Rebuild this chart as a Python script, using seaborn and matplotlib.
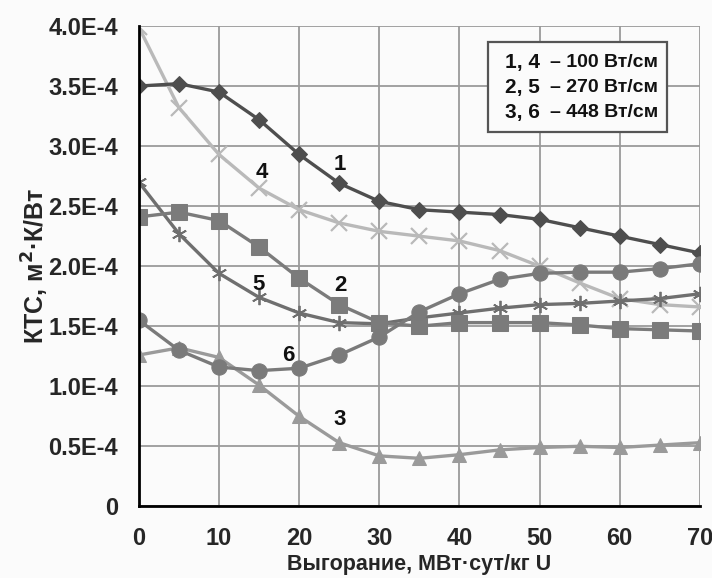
import matplotlib
matplotlib.use("Agg")
import matplotlib.pyplot as plt
from matplotlib import font_manager
from matplotlib.patches import Rectangle
import seaborn as sns
import pandas as pd

x = [0, 5, 10, 15, 20, 25, 30, 35, 40, 45, 50, 55, 60, 65, 70]
s1 = [3.50, 3.52, 3.45, 3.22, 2.93, 2.69, 2.54, 2.47, 2.45, 2.43, 2.39, 2.32, 2.25, 2.18, 2.11]
s4 = [3.99, 3.32, 2.93, 2.65, 2.47, 2.36, 2.29, 2.25, 2.21, 2.13, 2.00, 1.86, 1.73, 1.68, 1.66]
s5 = [2.70, 2.27, 1.94, 1.74, 1.61, 1.53, 1.52, 1.57, 1.61, 1.65, 1.68, 1.69, 1.71, 1.73, 1.77]
s2 = [2.41, 2.45, 2.38, 2.16, 1.90, 1.68, 1.53, 1.50, 1.53, 1.53, 1.53, 1.51, 1.48, 1.47, 1.46]
s6 = [1.55, 1.30, 1.16, 1.13, 1.15, 1.26, 1.41, 1.62, 1.77, 1.89, 1.94, 1.95, 1.95, 1.98, 2.02]
s3 = [1.26, 1.32, 1.24, 1.01, 0.75, 0.53, 0.42, 0.40, 0.43, 0.47, 0.49, 0.50, 0.49, 0.51, 0.53]

scale = 1e-4
y_ticks = [0, 0.5, 1.0, 1.5, 2.0, 2.5, 3.0, 3.5, 4.0]
y_ticklabels = ["0", "0.5E-4", "1.0E-4", "1.5E-4", "2.0E-4", "2.5E-4", "3.0E-4", "3.5E-4", "4.0E-4"]
x_ticks = [0, 10, 20, 30, 40, 50, 60, 70]

legend_keys = ["1, 4", "2, 5", "3, 6"]
legend_vals = ["– 100 Вт/см", "– 270 Вт/см", "– 448 Вт/см"]

sns.set_theme(style="white")
names = {f.name for f in font_manager.fontManager.ttflist}
narrow = 'Liberation Sans Narrow' if 'Liberation Sans Narrow' in names else 'Liberation Sans'
plt.rcParams['font.family'] = [narrow, 'DejaVu Sans']
plt.rcParams['font.weight'] = 'bold'

fig = plt.figure(figsize=(7.12, 5.78), dpi=100)
fig.patch.set_facecolor("#fbfbfb")
ax = fig.add_axes([0.195, 0.124, 0.788, 0.831])
ax.set_facecolor("#fbfbfb")

series = [
    (s4, "#b9b9b9", "x", 11, 1.6),
    (s5, "#6f6f6f", (6, 2, 0), 11, 1.3),
    (s1, "#4e4e4e", "D", 8, 0),
    (s2, "#7b7b7b", "s", 11, 0),
    (s3, "#9a9a9a", "^", 10, 0),
    (s6, "#7a7a7a", "o", 11, 0),
]

for vals, col, mk, ms, mew in series:
    df = pd.DataFrame({"x": x, "y": [v * scale for v in vals]})
    kw = dict(markeredgecolor=col)
    if mew > 0:
        kw["markeredgewidth"] = mew
    else:
        kw["markerfacecolor"] = col
    sns.lineplot(data=df, x="x", y="y", ax=ax, color=col, lw=2.4, marker=mk,
                 markersize=ms, zorder=3, **kw)

ax.set_xlim(0, 70)
ax.set_ylim(0, 4.0e-4)
ax.set_xticks(x_ticks)
ax.set_yticks([t * scale for t in y_ticks])
ax.set_yticklabels(y_ticklabels)
ax.tick_params(axis='y', labelsize=17, length=0, pad=15)
ax.tick_params(axis='x', labelsize=17, length=0, pad=15)
for lab in ax.get_xticklabels() + ax.get_yticklabels():
    lab.set_fontweight('bold')

ax.grid(True, color="#9a9a9a", lw=1.3)
ax.set_axisbelow(True)
for sp in ["top", "right"]:
    ax.spines[sp].set_visible(False)
for sp in ["left", "bottom"]:
    ax.spines[sp].set_color("black")
    ax.spines[sp].set_linewidth(2)
    ax.spines[sp].set_zorder(4)

ax.set_xlabel("Выгорание, МВт·сут/кг U", fontsize=15.5, fontweight='bold', labelpad=3)
ax.set_ylabel("КТС, м$^{\\mathbf{2}}$·К/Вт", fontsize=18, fontweight='bold',
              labelpad=-2, family=['Liberation Sans', 'DejaVu Sans'])

labels = [("1", 25.1, 2.85), ("4", 15.4, 2.78), ("5", 14.9, 1.85),
          ("2", 25.1, 1.84), ("6", 18.6, 1.26), ("3", 25.1, 0.72)]
for t, lx, ly in labels:
    ax.text(lx, ly * scale, t, fontsize=16, fontweight='bold', ha='center',
            va='center', color='#111111', zorder=5)

box = Rectangle((0.622, 0.780), 0.319, 0.187, transform=ax.transAxes,
                facecolor="#fbfbfb", edgecolor="#555555", lw=1.6, zorder=6)
ax.add_patch(box)
for i, (k, v) in enumerate(zip(legend_keys, legend_vals)):
    yy = 0.923 - i * 0.052
    ax.text(0.652, yy, k, transform=ax.transAxes, ha='left', va='center',
            fontsize=15, fontweight='bold', color='#111111', zorder=7)
    ax.text(0.733, yy, v, transform=ax.transAxes, ha='left', va='center',
            fontsize=14, fontweight='bold', color='#111111', zorder=7)

fig.savefig("out.png", dpi=100, facecolor=fig.get_facecolor())
